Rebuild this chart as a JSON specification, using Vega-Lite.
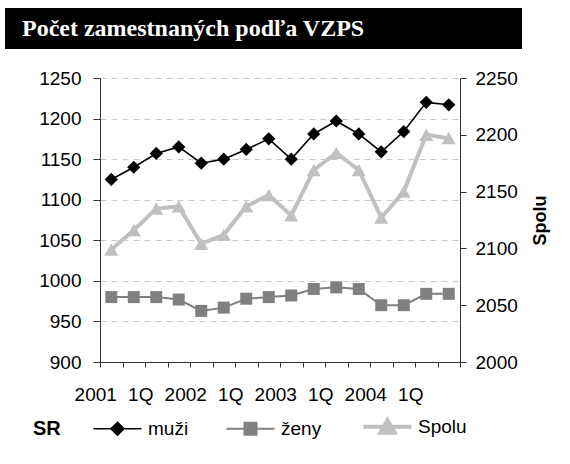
{
  "$schema": "https://vega.github.io/schema/vega-lite/v6.json",
  "background": "white",
  "padding": {"left": 5, "top": 8, "right": 5, "bottom": 0},
  "spacing": 20,
  "config": {
    "view": {"stroke": null},
    "font": "Liberation Sans",
    "axis": {"labelFont": "Liberation Sans", "titleFont": "Liberation Sans", "labelColor": "#000000", "titleColor": "#000000"}
  },
  "vconcat": [
    {
      "width": 422,
      "height": 41,
      "data": {"values": [{"t": "Počet zamestnaných podľa VZPS"}]},
      "layer": [
        {
          "mark": {"type": "rect", "color": "#000000"},
          "encoding": {
            "x": {"datum": 0, "type": "quantitative", "scale": {"domain": [0, 1], "range": [-95, 422]}, "axis": null},
            "x2": {"datum": 1}
          }
        },
        {
          "mark": {"type": "text", "align": "left", "baseline": "middle", "font": "Liberation Serif", "fontSize": 24, "fontWeight": "bold", "color": "#ffffff", "dx": 17},
          "encoding": {
            "text": {"field": "t", "type": "nominal"},
            "x": {"datum": 0, "type": "quantitative"}
          }
        }
      ]
    },
    {
      "width": 360,
      "height": 284,
      "data": {"values": [
        {"q": "2001Q1", "s": "muži", "v": 1125}, {"q": "2001Q2", "s": "muži", "v": 1140}, {"q": "2001Q3", "s": "muži", "v": 1157}, {"q": "2001Q4", "s": "muži", "v": 1165},
        {"q": "2002Q1", "s": "muži", "v": 1145}, {"q": "2002Q2", "s": "muži", "v": 1150}, {"q": "2002Q3", "s": "muži", "v": 1162}, {"q": "2002Q4", "s": "muži", "v": 1175},
        {"q": "2003Q1", "s": "muži", "v": 1150}, {"q": "2003Q2", "s": "muži", "v": 1181}, {"q": "2003Q3", "s": "muži", "v": 1197}, {"q": "2003Q4", "s": "muži", "v": 1181},
        {"q": "2004Q1", "s": "muži", "v": 1159}, {"q": "2004Q2", "s": "muži", "v": 1184}, {"q": "2004Q3", "s": "muži", "v": 1220}, {"q": "2004Q4", "s": "muži", "v": 1217},
        {"q": "2001Q1", "s": "ženy", "v": 980}, {"q": "2001Q2", "s": "ženy", "v": 980}, {"q": "2001Q3", "s": "ženy", "v": 980}, {"q": "2001Q4", "s": "ženy", "v": 977},
        {"q": "2002Q1", "s": "ženy", "v": 963}, {"q": "2002Q2", "s": "ženy", "v": 967}, {"q": "2002Q3", "s": "ženy", "v": 978}, {"q": "2002Q4", "s": "ženy", "v": 980},
        {"q": "2003Q1", "s": "ženy", "v": 982}, {"q": "2003Q2", "s": "ženy", "v": 990}, {"q": "2003Q3", "s": "ženy", "v": 992}, {"q": "2003Q4", "s": "ženy", "v": 990},
        {"q": "2004Q1", "s": "ženy", "v": 970}, {"q": "2004Q2", "s": "ženy", "v": 970}, {"q": "2004Q3", "s": "ženy", "v": 984}, {"q": "2004Q4", "s": "ženy", "v": 984},
        {"q": "2001Q1", "s": "Spolu", "v": 2099}, {"q": "2001Q2", "s": "Spolu", "v": 2116}, {"q": "2001Q3", "s": "Spolu", "v": 2135}, {"q": "2001Q4", "s": "Spolu", "v": 2137},
        {"q": "2002Q1", "s": "Spolu", "v": 2104}, {"q": "2002Q2", "s": "Spolu", "v": 2112}, {"q": "2002Q3", "s": "Spolu", "v": 2137}, {"q": "2002Q4", "s": "Spolu", "v": 2147},
        {"q": "2003Q1", "s": "Spolu", "v": 2129}, {"q": "2003Q2", "s": "Spolu", "v": 2169}, {"q": "2003Q3", "s": "Spolu", "v": 2184}, {"q": "2003Q4", "s": "Spolu", "v": 2169},
        {"q": "2004Q1", "s": "Spolu", "v": 2127}, {"q": "2004Q2", "s": "Spolu", "v": 2150}, {"q": "2004Q3", "s": "Spolu", "v": 2200}, {"q": "2004Q4", "s": "Spolu", "v": 2197}
      ]},
      "encoding": {
        "x": {
          "field": "q", "type": "ordinal", "sort": null,
          "scale": {"type": "band", "paddingInner": 0, "paddingOuter": 0},
          "axis": {
            "title": null, "tickBand": "extent", "labelAngle": 0, "labelOffset": -16,
            "labelExpr": "substring(datum.value,5,6) === '1' ? substring(datum.value,0,4) : (substring(datum.value,5,6) === '3' ? '1Q' : '')",
            "labelFontSize": 19, "labelPadding": 18, "labelOverlap": false, "labelFlush": false,
            "tickSize": 5, "tickColor": "#333333", "domainColor": "#333333", "grid": false
          }
        },
        "color": {
          "field": "s", "type": "nominal",
          "scale": {"domain": ["muži", "ženy", "Spolu"], "range": ["#000000", "#808080", "#c0c0c0"]},
          "legend": {
            "orient": "none", "legendX": -67, "legendY": 409, "direction": "horizontal",
            "title": "SR", "titleOrient": "left", "titleFontSize": 20, "titleFontWeight": "bold", "titleColor": "#000000", "titleFont": "Liberation Sans", "titlePadding": 47,
            "titleBaseline": "middle", "titleAnchor": "middle",
            "labelFont": "Liberation Sans", "labelFontSize": 19, "labelColor": "#000000", "labelOffset": 21,
            "symbolSize": 2304, "columnPadding": 33,
            "encode": {
              "symbols": {
                "update": {
                  "shape": {"signal": "datum.value === 'muži' ? 'M-1,0H1M0,-0.27L0.27,0L0,0.27L-0.27,0Z' : (datum.value === 'ženy' ? 'M-1,0H1M-0.25,-0.25H0.25V0.25H-0.25Z' : 'M-1,0H1M0,-0.28L0.3,0.24H-0.3Z')"},
                  "size": {"value": 2304},
                  "fill": {"signal": "datum.value === 'muži' ? '#000000' : (datum.value === 'ženy' ? '#808080' : '#c0c0c0')"},
                  "stroke": {"signal": "datum.value === 'muži' ? '#000000' : (datum.value === 'ženy' ? '#808080' : '#c0c0c0')"},
                  "strokeWidth": {"signal": "datum.value === 'Spolu' ? 4 : (datum.value === 'ženy' ? 2 : 1.6)"},
                  "opacity": {"value": 1}
                }
              }
            }
          }
        }
      },
      "layer": [
        {
          "encoding": {
            "y": {
              "field": "v", "type": "quantitative",
              "scale": {"domain": [900, 1250], "zero": false, "nice": false},
              "axis": {
                "title": null, "values": [900, 950, 1000, 1050, 1100, 1150, 1200, 1250], "format": "d",
                "labelFontSize": 19, "labelPadding": 12, "tickSize": 7, "tickColor": "#333333", "domainColor": "#333333",
                "grid": true, "gridColor": "#c8c8c8", "gridDash": [6, 5], "minExtent": 95
              }
            }
          },
          "layer": [
            {"transform": [{"filter": "datum.s === 'ženy'"}], "mark": {"type": "line", "strokeWidth": 2}},
            {"transform": [{"filter": "datum.s === 'ženy'"}], "mark": {"type": "point", "filled": true, "opacity": 1, "shape": "square", "size": 144}},
            {"transform": [{"filter": "datum.s === 'muži'"}], "mark": {"type": "line", "strokeWidth": 1.6}},
            {"transform": [{"filter": "datum.s === 'muži'"}], "mark": {"type": "point", "filled": true, "opacity": 1, "shape": "diamond", "size": 175}}
          ]
        },
        {
          "encoding": {
            "y": {
              "field": "v", "type": "quantitative",
              "scale": {"domain": [2000, 2250], "zero": false, "nice": false},
              "axis": {
                "orient": "right", "title": "Spolu", "values": [2000, 2050, 2100, 2150, 2200, 2250], "format": "d",
                "titleAngle": 270, "titleBaseline": "top", "titleFontSize": 18, "titleFontWeight": "bold", "titlePadding": 14,
                "labelFontSize": 19, "labelPadding": 9, "tickSize": 6, "tickColor": "#333333", "domainColor": "#333333", "grid": false
              }
            }
          },
          "layer": [
            {"transform": [{"filter": "datum.s === 'Spolu'"}], "mark": {"type": "line", "strokeWidth": 4}},
            {"transform": [{"filter": "datum.s === 'Spolu'"}], "mark": {"type": "point", "filled": true, "opacity": 1, "shape": "triangle-up", "size": 200}}
          ]
        }
      ],
      "resolve": {"scale": {"y": "independent"}}
    }
  ]
}
